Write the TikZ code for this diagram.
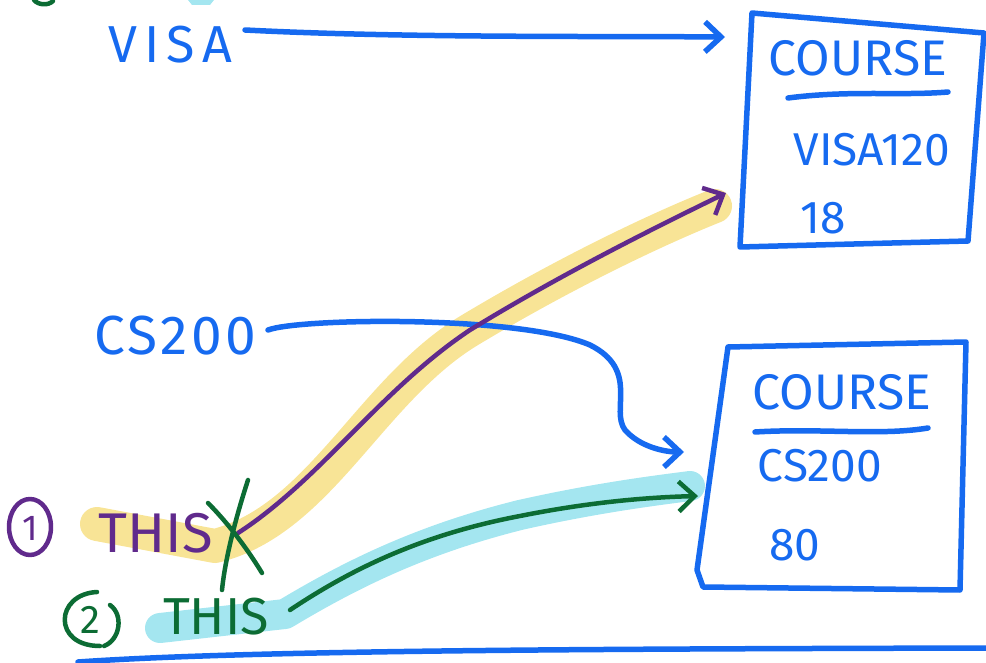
\documentclass[tikz,border=0pt]{standalone}
\usepackage{fontspec}
\newfontfamily\handfont{Fira Sans}
\usetikzlibrary{arrows.meta}
\definecolor{inkblue}{RGB}{22,106,240}
\definecolor{inkpurple}{RGB}{96,42,140}
\definecolor{inkgreen}{RGB}{12,108,52}
\definecolor{hlyellow}{RGB}{248,228,150}
\definecolor{hlcyan}{RGB}{164,230,240}
\begin{document}
\begin{tikzpicture}[x=1pt,y=-1pt,line cap=round,line join=round,
  ink/.style={line width=5.5pt},
  pen/.style={line width=4.5pt},
  marker/.style={line width=34pt},
  txt/.style={font=\handfont\fontsize{#1}{#1}\selectfont,inner sep=0pt,anchor=center},
  barb/.style={-{Straight Barb[length=16pt,width=30pt]}}]
\useasboundingbox (0,0) rectangle (986,663);

% pieces of strokes cut off at the top edge
\draw[pen,inkgreen] (34,0) .. controls (38,5) and (48,6) .. (53,1);
\fill[hlcyan] (188,0) -- (214,0) -- (210,5) -- (192,5) -- cycle;

% highlighter strokes
\draw[marker,hlyellow] (97,524) -- (215,546)
  .. controls (320,520) and (370,390) .. (470,330)
  .. controls (560,276) and (650,232) .. (715,206);
\draw[marker,line width=30pt,hlcyan] (160,628) -- (285,614)
  .. controls (350,575) and (420,540) .. (520,515)
  .. controls (600,497) and (660,490) .. (690,486);

% course boxes
\coordinate (a1) at (752,13);  \coordinate (a2) at (984,33);
\coordinate (a3) at (968,241); \coordinate (a4) at (740,247);
\draw[ink,inkblue] (a1) -- (a2) -- (a3) -- (a4) -- cycle;
\coordinate (b1) at (728,347); \coordinate (b2) at (966,342);
\coordinate (b3) at (960,590); \coordinate (b4) at (703,587);
\draw[ink,inkblue] (b1) -- (b2) -- (b3) -- (b4) -- (697,570) -- cycle;

% box contents
\node[txt=50,text=inkblue] (t1) at (858,58) {COURSE};
\draw[ink,inkblue] (788,98) .. controls (850,90) and (900,96) .. (948,92);
\node[txt=46,text=inkblue] (v1) at (872,150) {VISA120};
\node[txt=46,text=inkblue] (n1) at (823,218) {18};

\node[txt=50,text=inkblue] (t2) at (842,392) {COURSE};
\draw[ink,inkblue] (755,432) .. controls (820,428) and (880,436) .. (928,428);
\node[txt=46,text=inkblue] (c2) at (820,466) {CS200};
\node[txt=46,text=inkblue] (n2) at (795,545) {80};

% source labels
\node[txt=52,text=inkblue] (visa) at (170,45) {\addfontfeature{LetterSpace=14}VISA};
\node[txt=55,text=inkblue] (cs) at (175,336) {\addfontfeature{LetterSpace=6}CS200};

% connectors
\coordinate (visaend) at (725,37);
\draw[ink,inkblue,barb] (245,30) .. controls (400,38) and (600,36) .. (visaend);
\coordinate (csend) at (684,452);
\draw[ink,inkblue,barb] (268,330) .. controls (300,318) and (520,315) .. (590,345)
  .. controls (640,370) and (610,410) .. (625,430)
  .. controls (640,447) and (665,452) .. (csend);

% option one, crossed out
\node[txt=56,text=inkpurple] (this1) at (156,533) {THIS};
\draw[pen,inkpurple] (30,527) ellipse [x radius=21,y radius=28];
\node[txt=36,text=inkpurple] (one) at (30,528) {1};
\coordinate (p1end) at (726,193);
\draw[pen,inkpurple,barb] (238,533)
  .. controls (320,480) and (380,390) .. (470,330)
  .. controls (560,275) and (650,230) .. (p1end);
\draw[pen,inkgreen] (208,503) .. controls (225,520) and (245,545) .. (262,573);
\draw[pen,inkgreen] (248,480) .. controls (235,520) and (225,560) .. (222,590);

% option two
\node[txt=52,text=inkgreen] (this2) at (216,617) {THIS};
\node[txt=40,text=inkgreen] (two) at (90,620) {2};
\draw[pen,inkgreen] (97,592) .. controls (55,594) and (52,646) .. (100,646);
\draw[pen,inkgreen] (110,605) .. controls (124,615) and (120,640) .. (104,646);
\coordinate (p2end) at (698,496);
\draw[pen,inkgreen,barb] (290,610)
  .. controls (350,570) and (420,535) .. (520,516)
  .. controls (600,500) and (660,497) .. (p2end);

% rule along the bottom
\coordinate (rulea) at (78,662);
\coordinate (ruleb) at (986,648);
\draw[ink,inkblue] (rulea) .. controls (250,650) and (600,649) .. (ruleb);
\end{tikzpicture}
\end{document}
